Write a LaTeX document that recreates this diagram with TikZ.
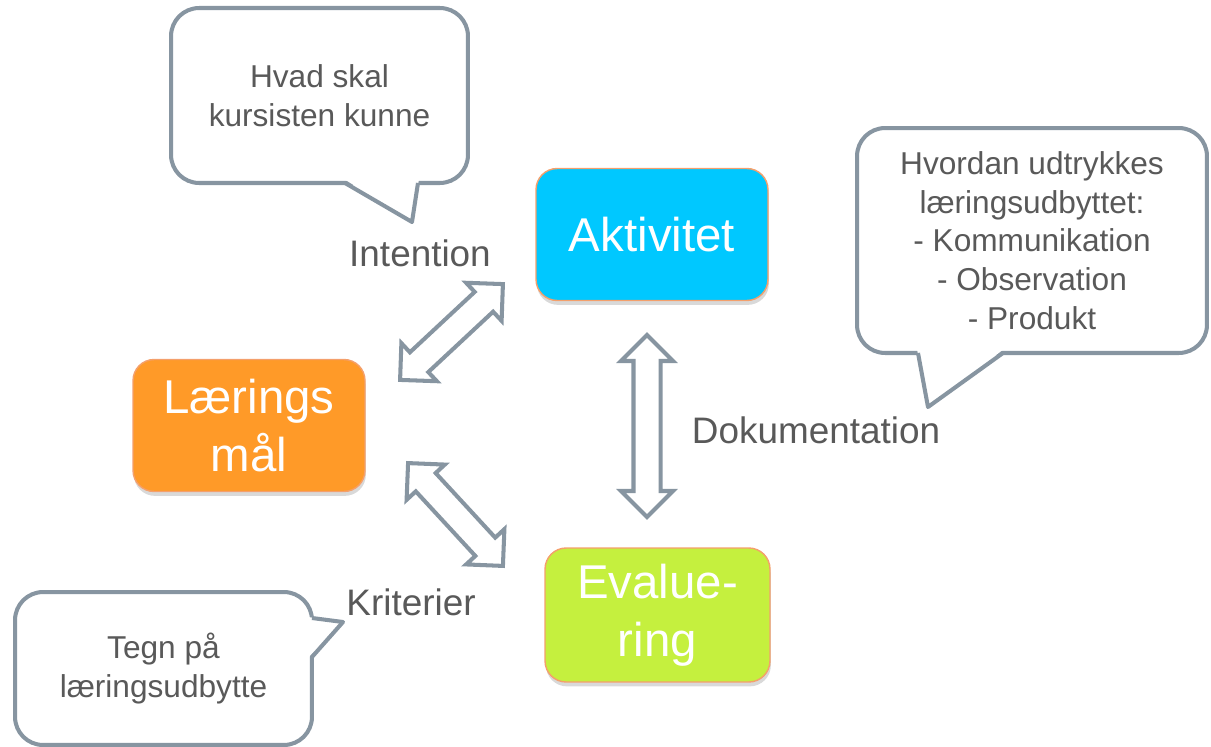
\documentclass[tikz,border=0pt]{standalone}
\usepackage{fontspec}
\setmainfont{Liberation Sans}
\usetikzlibrary{calc}
\usetikzlibrary{shapes.arrows,shadows}
\definecolor{notegray}{HTML}{8795A1}
\definecolor{txtgray}{HTML}{595959}
\definecolor{aktblue}{HTML}{00C8FF}
\definecolor{maalorange}{HTML}{FF9A28}
\definecolor{evalgreen}{HTML}{C5F03E}
\definecolor{boxedge}{HTML}{F4A06C}
\tikzset{
  stepbox/.style={draw=boxedge, line width=0.8pt, rounded corners=12pt, text=white, align=center,
    minimum width=4.64cm, minimum height=2.64cm, font=\fontsize{27}{33}\selectfont,
    drop shadow={shadow xshift=0.5pt, shadow yshift=-2.5pt, opacity=0.3}},
  note/.style={draw=notegray, line width=2.3pt, fill=white, rounded corners=16pt, align=center,
    text=txtgray, font=\fontsize{18}{22}\selectfont},
  tail/.style={draw=notegray, line width=2.3pt, line join=round},
  linklabel/.style={text=txtgray, font=\fontsize{21}{25}\selectfont},
  dblarrow/.style={double arrow, draw=notegray, line width=2.3pt, fill=white,
    text height=0pt, text depth=0pt, inner xsep=0pt, inner ysep=0.23cm,
    minimum width=0.96cm, double arrow head extend=0.25cm, double arrow tip angle=90},
}

\begin{document}
\begin{tikzpicture}[x=0.02cm, y=-0.02cm]

\useasboundingbox (0,0) rectangle (1211,747);

\node[stepbox, fill=aktblue] (akt) at (652,234.5) {Aktivitet};
\node[stepbox, fill=maalorange] (maal) at (249,425.5) {Lærings\\mål};
\node[stepbox, fill=evalgreen, minimum width=4.5cm, minimum height=2.68cm] (eval) at (657.5,615) {Evalue-\\ring};

\node[note, minimum width=5.94cm, minimum height=3.5cm] (hvad) at (319.5,95.5) {Hvad skal\\kursisten kunne};
\node[note, minimum width=7cm, minimum height=4.5cm] (hvordan) at (1032,240.5) {Hvordan udtrykkes\\læringsudbyttet:\\- Kommunikation\\- Observation\\- Produkt};
\node[note, minimum width=5.94cm, minimum height=3.06cm] (tegn) at (163.5,668.5) {Tegn på\\læringsudbytte};

\coordinate (hvadtip) at (412,222);
\coordinate (hvordantip) at (928,407);
\coordinate (tegntip) at (343,622);
\fill[white] (344,179) -- (hvadtip) -- (419,179) -- cycle;
\draw[tail] (345,183) -- (hvadtip) -- (418,183);
\fill[white] (917,349) -- (hvordantip) -- (1004,349) -- cycle;
\draw[tail] (918,353) -- (hvordantip) -- (1003,353);
\fill[white] (308,617) -- (tegntip) -- (308,658) -- cycle;
\draw[tail] (312,618) -- (tegntip) -- (312,657);

\node[linklabel] (intention) at (420,253) {Intention};
\node[linklabel] (dok) at (816,430) {Dokumentation};
\node[linklabel] (krit) at (411,602) {Kriterier};

\coordinate (ul1) at (400,380);
\coordinate (ul2) at (503,284);
\coordinate (ll1) at (408,463);
\coordinate (ll2) at (503,566);
\coordinate (v1) at (647,335);
\coordinate (v2) at (647,517);

\path let \p1=($(ul2)-(ul1)$), \n1={veclen(\x1,\y1)} in (ul1) -- (ul2) node[midway, sloped, dblarrow, minimum height=\n1] {};
\path let \p1=($(ll2)-(ll1)$), \n1={veclen(\x1,\y1)} in (ll1) -- (ll2) node[midway, sloped, dblarrow, minimum height=\n1] {};
\path let \p1=($(v2)-(v1)$), \n1={veclen(\x1,\y1)} in (v1) -- (v2) node[midway, sloped, dblarrow, minimum height=\n1] {};

\end{tikzpicture}
\end{document}
